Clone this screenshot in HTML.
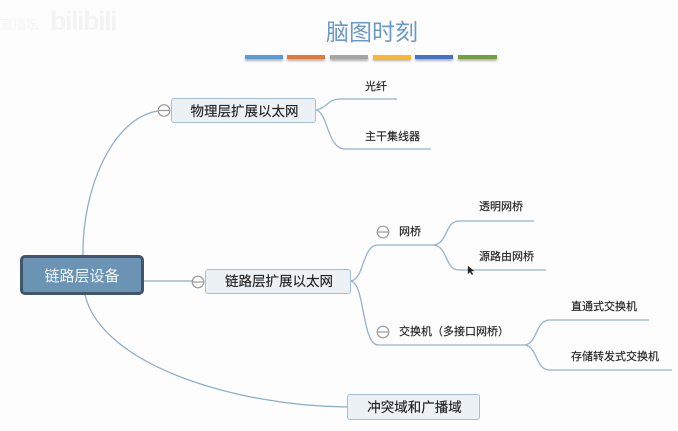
<!DOCTYPE html>
<html lang="zh"><head><meta charset="utf-8"><style>
html,body{margin:0;padding:0;background:#fdfdfe}
#p{position:relative;width:678px;height:431px;overflow:hidden;background:#fdfdfe;font-family:"Liberation Sans","Noto Sans CJK SC",sans-serif;color:#222}
.t{position:absolute;white-space:nowrap;line-height:1;filter:blur(.3px);-webkit-text-stroke:.15px #222}
.b{position:absolute;box-sizing:border-box;height:4px;top:55px;box-shadow:0 2px 2px rgba(0,0,0,.3)}
.n{position:absolute;box-sizing:border-box;background:#ecf1f6;border:1.5px solid #a3bfd6;border-radius:3px;text-align:center;font-size:13.500px;color:#222;filter:blur(.25px);-webkit-text-stroke:.15px #222;padding-left:2px}
svg{position:absolute;left:0;top:0}
</style></head><body><div id="p">
<div class="t" style="left:0;top:18px;font-size:13px;color:#f5f5f6;-webkit-text-stroke:0">直播坛</div>
<div class="t" style="left:50px;top:8px;font-size:27px;font-weight:bold;color:#f3f3f4;letter-spacing:-1.500px;-webkit-text-stroke:0">bilibili</div>
<div class="t" style="left:326px;top:21px;font-size:23px;color:#6a9ac9;-webkit-text-stroke:0">脑图时刻</div>
<div class="b" style="left:245px;width:38px;background:#5b9bd5"></div>
<div class="b" style="left:287px;width:38px;background:#e07b39"></div>
<div class="b" style="left:330px;width:38px;background:#a5a5a5"></div>
<div class="b" style="left:373px;width:38px;background:#fbb62d"></div>
<div class="b" style="left:415px;width:38px;background:#4472c4"></div>
<div class="b" style="left:458px;width:39px;background:#70a042"></div>
<svg width="678" height="431" fill="none" stroke="#94b3cf" stroke-width="1.300">
<path d="M83 255C82 190 112 118 158 111" stroke="#8fadc8"/>
<path d="M144 281H192" stroke="#9db9d2" stroke-width="1.500"/>
<path d="M85 295C102 365 235 406 347 407" stroke="#8fadc8"/>
<path d="M316 110C327 108 328 99 340 99H397"/>
<path d="M316 110C328 112 327 149 345 149H431"/>
<path d="M351 281C365 278 362 245 378 245H434"/>
<path d="M351 281C365 284 362 345 378 345H525"/>
<path d="M434 245C448 243 445 221 459 221H534"/>
<path d="M434 245C448 247 445 270 459 270H546"/>
<path d="M525 345C538 343 535 320 550 320H649"/>
<path d="M525 345C538 347 535 370 550 370H672"/>
<g stroke="#999" stroke-width="1.200" fill="#fdfdfe">
<circle cx="164" cy="110.500" r="5.800"/><path d="M159 110.500H169"/>
<circle cx="198" cy="282" r="5.800"/><path d="M193 282H203"/>
<circle cx="383" cy="232" r="5.800"/><path d="M378 232H388"/>
<circle cx="383" cy="332" r="5.800"/><path d="M378 332H388"/>
</g>
<path d="M468 266V274L470 272L472 275L473 274L471 271H474Z" fill="#222" stroke="#444" stroke-width=".4"/>
</svg>
<div class="n" style="left:20px;top:255px;width:124px;height:40px;background:#6b93b3;border:3px solid #3f566b;border-radius:5px;color:#f4f7fa;font-size:15px;line-height:37px;-webkit-text-stroke:0;padding-left:0">链路层设备</div>
<div class="n" style="left:171px;top:98px;width:145px;height:25px;line-height:25px">物理层扩展以太网</div>
<div class="n" style="left:205px;top:269px;width:146px;height:25px;line-height:24px">链路层扩展以太网</div>
<div class="n" style="left:347px;top:394px;width:133px;height:26px;line-height:25px">冲突域和广播域</div>
<div class="t" style="left:365px;top:81.500px;font-size:11px">光纤</div>
<div class="t" style="left:365px;top:131.500px;font-size:11px">主干集线器</div>
<div class="t" style="left:399px;top:227px;font-size:11px">网桥</div>
<div class="t" style="left:479px;top:202px;font-size:11px">透明网桥</div>
<div class="t" style="left:479px;top:252px;font-size:11px">源路由网桥</div>
<div class="t" style="left:399px;top:327px;font-size:11px">交换机（多接口网桥）</div>
<div class="t" style="left:571px;top:302px;font-size:11px">直通式交换机</div>
<div class="t" style="left:571px;top:352px;font-size:11px">存储转发式交换机</div>
</div></body></html>
